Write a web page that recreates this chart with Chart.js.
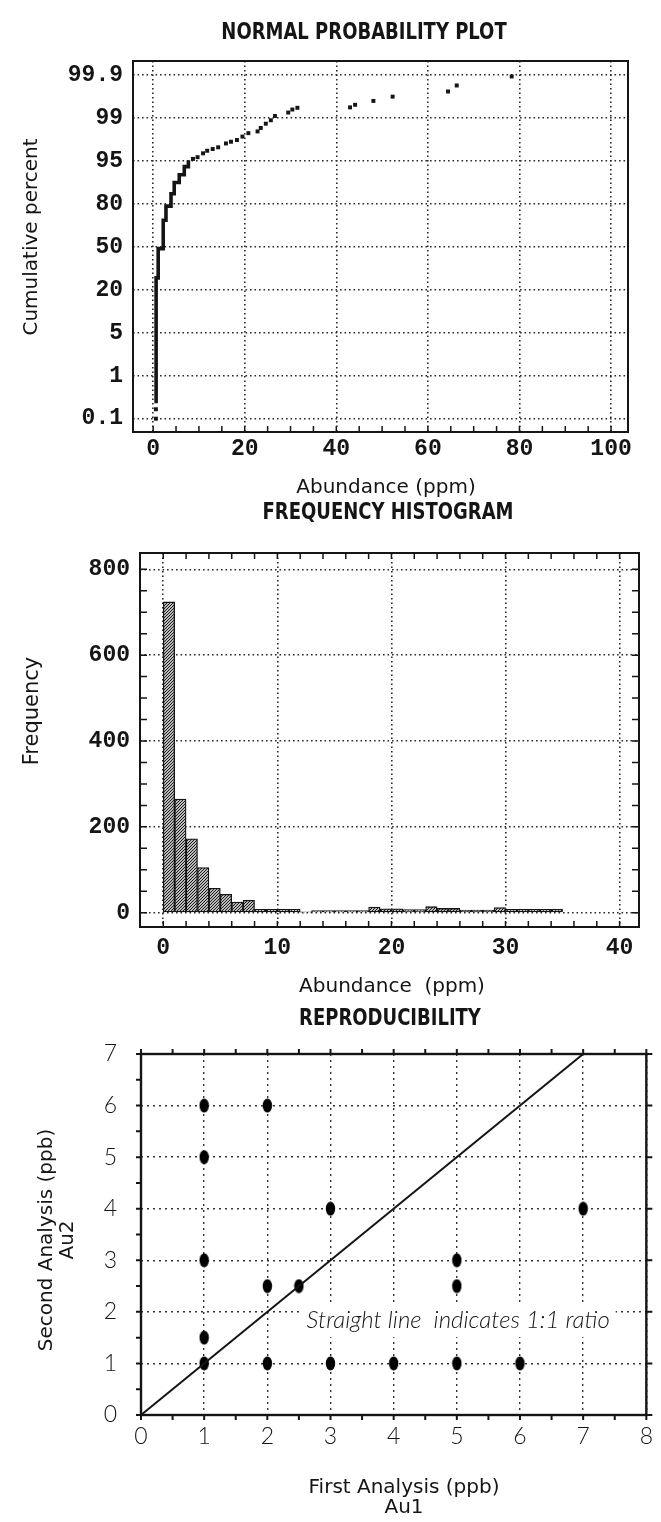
<!DOCTYPE html>
<html>
<head>
<meta charset="utf-8">
<script src="https://cdn.jsdelivr.net/npm/chart.js@4.4.1/dist/chart.umd.min.js"></script>
<style>
  html, body { margin: 0; padding: 0; background: #fff; width: 661px; height: 1522px; overflow: hidden; }
  canvas { position: absolute; left: 0; }
</style>
</head>
<body>
<canvas id="c1" width="661" height="500" style="top:0px"></canvas>
<canvas id="c2" width="661" height="500" style="top:500px"></canvas>
<canvas id="c3" width="661" height="522" style="top:1000px"></canvas>
<script>
// ---------------- DATA ----------------
// Chart 1: normal probability plot (y is the ordinal position of the probability tick)
const probTickLabels = ['0.1', '1', '5', '20', '50', '80', '95', '99', '99.9'];
const probTickIndex  = [0, 1, 2, 3, 4, 5, 6, 7, 8];
const probXTicks     = [0, 20, 40, 60, 80, 100];
// dense staircase part of the cumulative curve (abundance ppm, probability position)
const stairX = [0.65, 0.65, 1.1, 1.1, 2.2, 2.2, 2.8, 2.8, 3.9, 3.9, 4.6, 4.6, 5.7, 5.7, 6.8, 6.8, 7.7, 7.7];
const stairY = [0.36, 3.28, 3.28, 3.96, 3.96, 4.62, 4.62, 4.95, 4.95, 5.24, 5.24, 5.5, 5.5, 5.68, 5.68, 5.87, 5.87, 6.02];
// individual plotted samples
const dotX = [0.6, 0.6, 8.7, 9.7, 10.9, 11.8, 13.0, 14.2, 15.9, 17.0, 18.3, 19.5, 20.8, 22.8, 23.5, 24.6, 25.7, 26.6, 29.5, 30.4, 31.5, 43.0, 44.1, 48.1, 52.3, 64.4, 66.3, 78.3];
const dotY = [0.0, 0.22, 6.05, 6.09, 6.18, 6.24, 6.28, 6.32, 6.41, 6.45, 6.49, 6.57, 6.65, 6.69, 6.77, 6.87, 6.95, 7.05, 7.13, 7.2, 7.24, 7.25, 7.31, 7.4, 7.5, 7.62, 7.76, 7.97];

// Chart 2: frequency histogram (1 ppm bins, left edges)
const histBinStart = [0,1,2,3,4,5,6,7,8,9,10,11,12,13,14,15,16,17,18,19,20,21,22,23,24,25,26,27,28,29,30,31,32,33,34];
const histCounts   = [724,265,172,105,57,43,25,29,8,8,8,8,1,5,5,5,5,5,13,9,9,7,7,14,10,10,6,6,6,12,8,8,8,8,8];
const histXTicks   = [0, 10, 20, 30, 40];
const histYTicks   = [0, 200, 400, 600, 800];

// Chart 3: reproducibility (first vs second analysis, ppb)
const au1 = [1, 2, 1, 3, 7, 1, 5, 2, 2.5, 5, 1, 1, 2, 3, 4, 5, 6];
const au2 = [6, 6, 5, 4, 4, 3, 3, 2.5, 2.5, 2.5, 1.5, 1, 1, 1, 1, 1, 1];
const ratioLineX = [0, 7];
const ratioLineY = [0, 7];

// ---------------- TEXT ----------------
const title1 = 'NORMAL PROBABILITY PLOT';
const title2 = 'FREQUENCY HISTOGRAM';
const title3 = 'REPRODUCIBILITY';
const xTitle1 = 'Abundance (ppm)';
const yTitle1 = 'Cumulative percent';
const xTitle2 = 'Abundance  (ppm)';
const yTitle2 = 'Frequency';
const xTitle3 = ['First Analysis (ppb)', 'Au1'];
const yTitle3 = ['Second Analysis (ppb)', 'Au2'];
const note3 = 'Straight line  indicates 1:1 ratio';

// ---------------- STYLE HELPERS ----------------
const monoFam  = "'Liberation Mono','DejaVu Sans Mono',monospace";
const sansFam  = "'DejaVu Sans','Noto Sans',sans-serif";
const titleFam = "'Liberation Sans Narrow','DejaVu Sans Condensed','Liberation Sans',sans-serif";
const lightFam = "Lato,'Open Sans',sans-serif";
const ink = '#151515';
const monoTick = { family: monoFam, size: 23, weight: 'bold', lineHeight: 1.2 };

function range(a, b, s) { const r = []; for (let v = a; v <= b + 1e-9; v += s) r.push(+v.toFixed(4)); return r; }
function fixedTicks(vals) { return s => { s.ticks = vals.map(v => ({ value: v })); }; }

function textPlugin(id, items) {
  return {
    id,
    afterDraw(chart) {
      const ctx = chart.ctx;
      for (const it of items) {
        const lines = Array.isArray(it.text) ? it.text : [it.text];
        ctx.save();
        ctx.font = it.font;
        ctx.fillStyle = it.color || ink;
        ctx.textAlign = 'center';
        ctx.textBaseline = 'middle';
        ctx.translate(it.x, it.y);
        if (it.rot) ctx.rotate(it.rot);
        if (it.sy) ctx.scale(1, it.sy);
        lines.forEach((l, i) => ctx.fillText(l, 0, i * (it.lh || 20)));
        ctx.restore();
      }
    }
  };
}

function framePlugin(id, opts) {
  return {
    id,
    afterDraw(chart) {
      const { ctx, chartArea: a } = chart;
      ctx.save();
      ctx.strokeStyle = ink;
      ctx.lineWidth = opts.tw || 1.5;
      ctx.beginPath();
      for (const t of opts.ticks) {
        const s = chart.scales[t.scale];
        const sign = t.out ? -1 : 1;
        for (const v of t.values) {
          const p = s.getPixelForValue(v);
          if (t.side === 'bottom') { ctx.moveTo(p, a.bottom); ctx.lineTo(p, a.bottom - sign * t.len); }
          if (t.side === 'top')    { ctx.moveTo(p, a.top);    ctx.lineTo(p, a.top + sign * t.len); }
          if (t.side === 'left')   { ctx.moveTo(a.left, p);   ctx.lineTo(a.left + sign * t.len, p); }
          if (t.side === 'right')  { ctx.moveTo(a.right, p);  ctx.lineTo(a.right - sign * t.len, p); }
        }
      }
      ctx.stroke();
      ctx.lineWidth = opts.lw;
      ctx.strokeRect(a.left, a.top, a.right - a.left, a.bottom - a.top);
      ctx.restore();
    }
  };
}

Chart.defaults.animation = false;
Chart.defaults.responsive = false;
Chart.defaults.plugins.legend.display = false;
Chart.defaults.plugins.tooltip.enabled = false;
Chart.defaults.events = [];

// ---------------- CHART 1 ----------------
new Chart(document.getElementById('c1'), {
  type: 'scatter',
  data: {
    datasets: [
      {
        type: 'line',
        data: stairX.map((x, i) => ({ x, y: stairY[i] })),
        borderColor: ink, borderWidth: 3.6, pointRadius: 0, tension: 0, fill: false,
        borderJoinStyle: 'miter'
      },
      {
        data: dotX.map((x, i) => ({ x, y: dotY[i] })),
        pointStyle: 'rect', pointRadius: 2.8, backgroundColor: ink, borderWidth: 0
      }
    ]
  },
  options: {
    layout: { padding: { top: 61, right: 33, left: 0, bottom: 0 } },
    scales: {
      x: {
        type: 'linear', min: -4.4, max: 103.7,
        afterBuildTicks: fixedTicks(probXTicks),
        afterFit: s => { s.height = 68; },
        grid: { color: '#2a2a2a', lineWidth: 1.6, drawTicks: false },
        border: { display: false, dash: [1.6, 2.9] },
        ticks: { font: monoTick, color: ink, padding: 3, maxRotation: 0, autoSkip: false }
      },
      y: {
        type: 'linear', min: -0.31, max: 8.33,
        afterBuildTicks: fixedTicks(probTickIndex),
        afterFit: s => { s.width = 133; },
        grid: { color: '#2a2a2a', lineWidth: 1.6, drawTicks: false },
        border: { display: false, dash: [1.6, 2.9] },
        ticks: { font: monoTick, color: ink, padding: 10, autoSkip: false,
                 callback: v => probTickLabels[probTickIndex.indexOf(v)] }
      }
    }
  },
  plugins: [
    framePlugin('frame1', { lw: 2, tw: 1.5, ticks: [ { scale: 'x', side: 'bottom', values: range(0, 100, 5), len: 6 } ] }),
    textPlugin('text1', [
      { text: title1, x: 364, y: 33, font: `bold 20px ${titleFam}`, sy: 1.18 },
      { text: xTitle1, x: 386, y: 488, font: `20px ${sansFam}` },
      { text: yTitle1, x: 32, y: 237, font: `20px ${sansFam}`, rot: -Math.PI / 2 }
    ])
  ]
});

// ---------------- CHART 2 ----------------
const c2 = document.getElementById('c2');
function hatchPattern(ctx) {
  const t = document.createElement('canvas');
  t.width = 3; t.height = 3;
  const g = t.getContext('2d');
  g.fillStyle = '#fff'; g.fillRect(0, 0, 3, 3);
  g.strokeStyle = '#111'; g.lineWidth = 1.1;
  g.beginPath();
  g.moveTo(-1, 4); g.lineTo(4, -1);
  g.moveTo(-1, 1); g.lineTo(1, -1);
  g.moveTo(2, 4); g.lineTo(4, 2);
  g.stroke();
  return ctx.createPattern(t, 'repeat');
}
new Chart(c2, {
  type: 'bar',
  data: {
    datasets: [{
      data: histBinStart.map((b, i) => ({ x: b + 0.5, y: histCounts[i] })),
      backgroundColor: hatchPattern(c2.getContext('2d')),
      borderColor: ink, borderWidth: 1.3, borderSkipped: false,
      barPercentage: 1, categoryPercentage: 1
    }]
  },
  options: {
    layout: { padding: { top: 53, right: 22, left: 0, bottom: 0 } },
    scales: {
      x: {
        type: 'linear', min: -2.04, max: 41.7, offset: false,
        afterBuildTicks: fixedTicks(histXTicks),
        afterFit: s => { s.height = 73; },
        grid: { color: '#2a2a2a', lineWidth: 1.6, drawTicks: false, offset: false },
        border: { display: false, dash: [1.6, 2.9] },
        ticks: { font: monoTick, color: ink, padding: 7, maxRotation: 0, autoSkip: false }
      },
      y: {
        type: 'linear', min: -33.3, max: 838,
        afterBuildTicks: fixedTicks(histYTicks),
        afterFit: s => { s.width = 140; },
        grid: { color: '#2a2a2a', lineWidth: 1.6, drawTicks: false },
        border: { display: false, dash: [1.6, 2.9] },
        ticks: { font: monoTick, color: ink, padding: 10, autoSkip: false }
      }
    }
  },
  plugins: [
    framePlugin('frame2', { lw: 2, tw: 1.5, ticks: [
      { scale: 'x', side: 'bottom', values: range(0, 40, 2), len: 6 },
      { scale: 'x', side: 'top', values: range(0, 40, 2), len: 6 },
      { scale: 'y', side: 'left', values: range(0, 800, 50), len: 7 },
      { scale: 'y', side: 'right', values: range(0, 800, 50), len: 7 }
    ] }),
    textPlugin('text2', [
      { text: title2, x: 388, y: 13, font: `bold 20px ${titleFam}`, sy: 1.18 },
      { text: xTitle2, x: 392, y: 487, font: `20px ${sansFam}` },
      { text: yTitle2, x: 33, y: 211, font: `21px ${sansFam}`, rot: -Math.PI / 2 }
    ])
  ]
});

// ---------------- CHART 3 ----------------
function ellipseMarker() {
  const c = document.createElement('canvas');
  c.width = 11; c.height = 15;
  const g = c.getContext('2d');
  g.fillStyle = '#000';
  g.beginPath(); g.ellipse(5.5, 7.5, 4.7, 6.9, 0, 0, Math.PI * 2); g.fill();
  return c;
}
const noteX = 2.62, noteY = 1.84;
const notePlugin = {
  id: 'note3',
  beforeDatasetsDraw(chart) {
    const { ctx, scales: { x, y } } = chart;
    ctx.save();
    ctx.font = `italic 300 24px ${lightFam}`;
    const w = ctx.measureText(note3).width;
    const px = x.getPixelForValue(noteX), py = y.getPixelForValue(noteY);
    ctx.fillStyle = '#fff';
    ctx.fillRect(px - 4, py - 17, w + 10, 34);
    ctx.fillStyle = ink;
    ctx.textAlign = 'left'; ctx.textBaseline = 'middle';
    ctx.fillText(note3, px, py);
    ctx.restore();
  }
};
new Chart(document.getElementById('c3'), {
  type: 'scatter',
  data: {
    datasets: [
      {
        type: 'line',
        data: ratioLineX.map((x, i) => ({ x, y: ratioLineY[i] })),
        borderColor: ink, borderWidth: 2, pointRadius: 0, tension: 0, fill: false
      },
      {
        data: au1.map((x, i) => ({ x, y: au2[i] })),
        pointStyle: ellipseMarker(), pointRadius: 6
      }
    ]
  },
  options: {
    layout: { padding: { top: 54, right: 9, left: 0, bottom: 0 } },
    scales: {
      x: {
        type: 'linear', min: 0, max: 8,
        ticks: { stepSize: 1, font: { family: lightFam, size: 23, weight: 300, lineHeight: 1.2 }, color: ink, padding: 8, maxRotation: 0 },
        afterFit: s => { s.height = 107; },
        grid: { color: '#333', lineWidth: 1.4, drawTicks: false },
        border: { display: false, dash: [2, 4] }
      },
      y: {
        type: 'linear', min: 0, max: 7,
        ticks: { stepSize: 1, font: { family: lightFam, size: 23, weight: 300 }, color: ink, padding: 24 },
        afterFit: s => { s.width = 141; },
        grid: { color: '#333', lineWidth: 1.4, drawTicks: false },
        border: { display: false, dash: [2, 4] }
      }
    }
  },
  plugins: [
    notePlugin,
    framePlugin('frame3', { lw: 2.4, tw: 2, ticks: [
      { scale: 'x', side: 'bottom', values: range(0, 8, 0.5), len: 5, out: true },
      { scale: 'x', side: 'top', values: range(0, 8, 0.5), len: 5, out: true },
      { scale: 'y', side: 'left', values: range(0, 7, 0.5), len: 5, out: true },
      { scale: 'y', side: 'right', values: range(0, 7, 1), len: 6, out: true }
    ] }),
    textPlugin('text3', [
      { text: title3, x: 390, y: 19, font: `bold 20px ${titleFam}`, sy: 1.18 },
      { text: xTitle3, x: 404, y: 488, font: `20px ${sansFam}`, lh: 20 },
      { text: yTitle3, x: 47, y: 240, font: `20px ${sansFam}`, rot: -Math.PI / 2, lh: 21 }
    ])
  ]
});
</script>
</body>
</html>
